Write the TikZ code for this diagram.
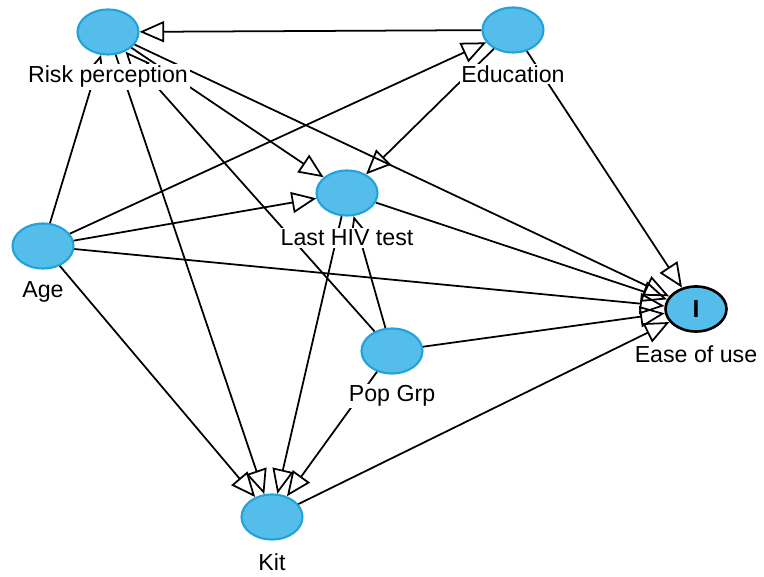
\documentclass[tikz,border=0pt]{standalone}
\usepackage{fontspec}
\setmainfont{Liberation Sans}
\usetikzlibrary{arrows.meta,positioning,shapes.geometric}
\definecolor{varfill}{HTML}{55BDEA}
\definecolor{varedge}{HTML}{22A2DA}
\tikzset{
	var/.style={ellipse,draw=varedge,fill=varfill,line width=1.2pt,minimum width=1.22cm,minimum height=0.9cm,inner sep=0pt},
	outcome/.style={var,draw=black,line width=1.5pt},
	lbl/.style={fill=white,inner sep=1pt,font=\fontsize{13.2}{15}\selectfont},
	cause/.style={-{Triangle[open,length=14pt,width=12pt]},line width=1pt},
}
\begin{document}
\begin{tikzpicture}[x=0.02cm,y=-0.02cm]
	\useasboundingbox (0,0) rectangle (764,577);
	\node[var] at (108,32) (risk) {};
	\node[var] at (513,30) (edu) {};
	\node[var] at (347,193) (hiv) {};
	\node[var] at (43,246) (age) {};
	\node[var] at (392,351) (pop) {};
	\node[var] at (272,517) (kit) {};
	\node[outcome,font=\fontsize{14}{15}\selectfont\bfseries] at (696,309) (ease) {I};
	\draw[cause] (edu) -- (risk);
	\draw[cause] (age) -- (risk);
	\draw[cause] (age) -- (edu);
	\draw[cause] (age) -- (hiv);
	\draw[cause] (age) -- (ease);
	\draw[cause] (age) -- (kit);
	\draw[cause] (risk) -- (hiv);
	\draw[cause] (risk) -- (ease);
	\draw[cause] (risk) -- (kit);
	\draw[cause] (edu) -- (hiv);
	\draw[cause] (edu) -- (ease);
	\draw[cause] (hiv) -- (ease);
	\draw[cause] (hiv) -- (kit);
	\draw[cause] (pop) -- (risk);
	\draw[cause] (pop) -- (hiv);
	\draw[cause] (pop) -- (kit);
	\draw[cause] (pop) -- (ease);
	\draw[cause] (kit) -- (ease);
	% labels go last so they hide the lines behind them
	\node[lbl] at ([yshift=-0.9cm]risk.center) (risklbl) {Risk perception};
	\node[lbl] at ([yshift=-0.88cm]edu.center) (edulbl) {Education};
	\node[lbl] at ([yshift=-0.9cm]hiv.center) (hivlbl) {Last HIV test};
	\node[lbl] at ([yshift=-0.92cm]age.center) (agelbl) {Age};
	\node[lbl] at ([yshift=-0.9cm]pop.center) (poplbl) {Pop Grp};
	\node[lbl] at ([yshift=-0.9cm]kit.center) (kitlbl) {Kit};
	\node[lbl] at ([yshift=-0.9cm]ease.center) (easelbl) {Ease of use};
\end{tikzpicture}
\end{document}
